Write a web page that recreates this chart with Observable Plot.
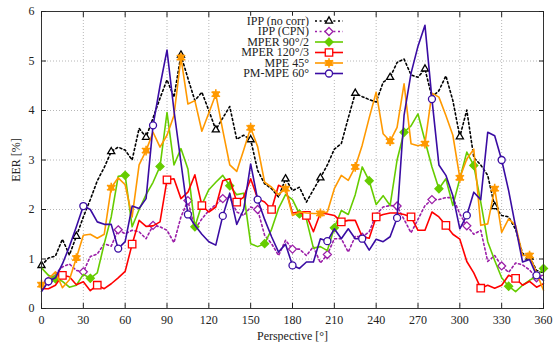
<!DOCTYPE html>
<html>
<head>
<meta charset="utf-8">
<script src="https://cdn.jsdelivr.net/npm/d3@7"></script>
<script src="https://cdn.jsdelivr.net/npm/@observablehq/plot@0.6"></script>
<style>
  html, body { margin: 0; padding: 0; background: white; }
</style>
</head>
<body>
<div id="chart"></div>
<script>
const angles = [0,5,10,15,20,25,30,35,40,45,50,55,60,65,70,75,80,85,90,95,100,105,110,115,120,125,130,135,140,145,150,155,160,165,170,175,180,185,190,195,200,205,210,215,220,225,230,235,240,245,250,255,260,265,270,275,280,285,290,295,300,305,310,315,320,325,330,335,340,345,350,355,360];

const seriesNames = ["IPP (no corr)", "IPP (CPN)", "MPER 90°/2", "MPER 120°/3", "MPE 45°", "PM-MPE 60°"];

const ippNoCorr = [0.87,1.02,1.06,1.4,1.08,1.46,1.85,2.2,2.58,2.85,
  3.17,3.26,3.2,3.0,3.64,3.46,3.85,4.25,4.62,4.27,
  5.12,4.65,4.2,4.37,4.0,3.61,3.85,4.08,3.42,3.5,
  3.41,2.79,2.52,2.42,2.25,2.62,2.38,2.45,2.15,2.4,
  2.64,2.9,3.22,3.33,3.85,4.35,4.28,4.22,4.17,4.57,
  4.67,4.97,5.04,4.72,4.67,4.84,4.27,4.4,4.7,4.2,
  3.47,4.01,3.05,2.9,2.69,2.06,1.88,1.85,1.6,1.11,
  1.04,0.77,0.72];

const ippCpn = [0.45,0.55,0.7,0.84,0.9,0.77,0.74,1.05,1.1,1.31,
  1.26,1.59,1.51,1.58,1.55,1.41,1.68,1.65,1.58,1.33,
  1.85,2.18,1.6,1.81,1.98,2.1,2.22,2.25,1.95,1.88,
  2.05,2.0,1.48,1.31,1.07,1.38,1.2,1.2,1.07,1.25,
  0.92,1.09,1.41,1.41,1.14,1.46,1.44,1.55,1.9,2.05,
  2.08,2.07,1.8,1.53,1.8,2.08,2.2,2.2,2.24,2.24,
  1.91,1.67,1.5,1.58,0.95,1.07,0.86,0.73,0.92,0.88,
  0.78,0.62,0.68];

const mper90 = [0.82,0.67,0.6,0.55,0.43,0.47,0.69,0.61,0.72,1.31,
  1.85,2.67,2.69,1.65,2.0,2.3,2.55,2.87,3.96,2.9,
  3.23,2.82,1.65,2.1,2.4,2.55,2.69,2.48,2.3,2.33,
  1.31,1.25,1.31,1.6,2.02,2.3,2.2,1.91,1.8,1.22,
  1.25,1.17,1.63,1.98,1.9,2.3,2.86,2.58,2.1,2.28,
  2.08,3.0,3.56,3.69,3.93,3.39,2.86,2.42,2.62,2.08,
  2.62,3.16,2.89,2.15,1.35,0.97,0.62,0.45,0.34,0.47,
  0.57,0.65,0.81];

const mper120 = [0.4,0.4,0.47,0.67,0.64,0.48,0.54,0.36,0.47,0.4,
  0.5,0.62,0.75,1.3,1.78,1.66,1.67,1.75,2.6,2.62,
  2.22,2.35,2.7,2.08,1.95,2.05,2.58,2.62,2.15,2.25,
  2.62,2.22,2.15,2.0,2.49,2.42,1.93,1.95,1.88,1.55,
  1.93,1.91,1.88,1.75,1.78,1.78,1.45,1.42,1.85,1.9,
  1.93,1.93,1.9,1.85,1.58,1.58,1.95,1.85,1.68,1.5,
  1.4,0.95,0.72,0.41,0.47,0.41,0.47,0.67,0.61,0.47,
  0.55,0.43,0.5];

const mpe45 = [0.48,0.6,0.74,0.42,0.58,1.02,1.48,1.5,1.42,1.5,
  2.44,2.64,2.5,1.85,2.9,3.19,3.56,3.26,3.5,3.9,
  5.07,4.13,4.2,3.58,3.95,4.33,3.6,2.9,2.77,3.2,
  3.65,3.27,2.55,2.45,2.3,2.42,1.88,1.95,1.93,1.92,
  1.92,1.95,2.42,2.69,2.59,2.86,3.3,3.85,4.37,3.53,
  3.38,3.66,4.54,3.33,3.29,3.33,4.35,4.27,3.9,3.5,
  2.64,3.02,3.22,1.68,1.71,2.42,1.54,1.81,1.68,1.07,
  1.07,0.72,0.37];

const pmMpe60 = [0.34,0.55,0.62,0.9,1.25,1.65,2.07,2.0,1.75,1.7,
  1.7,1.21,1.35,2.07,2.02,2.22,3.7,4.5,5.22,4.0,
  2.95,1.9,1.68,1.5,1.35,1.28,1.87,2.33,1.7,2.0,
  2.92,2.2,1.8,1.45,1.14,1.3,0.87,0.81,0.94,0.94,
  1.41,1.36,1.61,1.41,1.61,1.41,1.41,1.18,1.4,1.35,
  1.45,1.83,3.9,4.75,5.3,5.72,4.23,2.9,2.69,2.28,
  1.61,1.88,2.35,2.2,3.56,3.49,3.0,2.38,1.65,0.94,
  0.99,0.67,0.57];

const xTicks = [0,30,60,90,120,150,180,210,240,270,300,330,360];
const yTicks = [0,1,2,3,4,5,6];

const FONT = "Liberation Serif, Times New Roman, DejaVu Serif, serif";

const styles = [
  {values: ippNoCorr, color: "#000000", dash: "2,2.6", symbol: "triangle2", d3sym: d3.symbolTriangle2, fill: "white", r: 3.4, offset: 0},
  {values: ippCpn,    color: "#9b1fa8", dash: "2,2.6", symbol: "diamond2", d3sym: d3.symbolDiamond2, fill: "white", r: 3.6, offset: 1},
  {values: mper90,    color: "#66cc00", dash: null, symbol: "diamond2", d3sym: d3.symbolDiamond2, fill: "#66cc00", r: 3.6, offset: 2},
  {values: mper120,   color: "#ff0000", dash: null, symbol: "square", d3sym: d3.symbolSquare, fill: "white", r: 4.2, offset: 3},
  {values: mpe45,     color: "#ff9900", dash: null, symbol: "square", d3sym: d3.symbolSquare, fill: "#ff9900", r: 2.6, offset: 0, star: true},
  {values: pmMpe60,   color: "#3a0ca3", dash: null, symbol: "circle", d3sym: d3.symbolCircle, fill: "white", r: 3.5, offset: 1}
];

const marks = [
  Plot.gridX(xTicks, {stroke: "#999", strokeOpacity: 0.7, strokeDasharray: "1,2"}),
  Plot.gridY(yTicks, {stroke: "#999", strokeOpacity: 0.7, strokeDasharray: "1,2"})
];

styles.forEach((s) => {
  const rows = angles.map((a, i) => ({angle: a, eer: s.values[i], i}));
  marks.push(Plot.line(rows, {x: "angle", y: "eer", stroke: s.color, strokeWidth: 1.6, strokeDasharray: s.dash || undefined}));
  const pts = rows.filter(d => d.i % 5 === s.offset);
  marks.push(Plot.dot(pts, {x: "angle", y: "eer", symbol: s.symbol, r: s.r, stroke: s.color, fill: s.fill, strokeWidth: 1.3}));
  if (s.star) marks.push(Plot.dot(pts, {x: "angle", y: "eer", symbol: "asterisk", r: 4.6, stroke: s.color, strokeWidth: 1.6}));
});

marks.push(
  Plot.frame({stroke: "#333", strokeWidth: 1}),
  Plot.axisX(xTicks, {tickSize: 0, tickPadding: 7, tickFormat: d => String(d), label: "Perspective [°]", labelAnchor: "center", labelArrow: "none", labelOffset: 31}),
  Plot.axisX(xTicks, {tickSize: 5, dy: -5, tickFormat: () => "", label: null}),
  Plot.axisX(xTicks, {anchor: "top", tickSize: 5, dy: 5, tickFormat: () => "", label: null}),
  Plot.axisY(yTicks, {tickSize: 0, tickPadding: 7, tickFormat: d => String(d), label: "EER [%]", labelAnchor: "center", labelArrow: "none", labelOffset: 30}),
  Plot.axisY(yTicks, {tickSize: 5, dx: 5, tickFormat: () => "", label: null}),
  Plot.axisY(yTicks, {anchor: "right", tickSize: 5, dx: -5, tickFormat: () => "", label: null})
);

const chart = Plot.plot({
  width: 555,
  height: 342,
  marginLeft: 41,
  marginRight: 12,
  marginTop: 11,
  marginBottom: 34,
  style: {fontSize: "12px", background: "white", color: "#222", fontFamily: FONT},
  x: {domain: [0, 360]},
  y: {domain: [0, 6]},
  marks
});

// Legend inside the plot, like the gnuplot key
const svg = d3.select(chart);
svg.attr("font-family", FONT);
const lg = svg.append("g").attr("font-size", 12).attr("fill", "#222");
styles.forEach((s, i) => {
  const y = 21 + i * 10.5;
  lg.append("rect").attr("x", 240).attr("y", y - 5.25).attr("width", 106).attr("height", 10.5).attr("fill", "white");
  lg.append("text").attr("x", 309).attr("y", y).attr("dy", "0.33em").attr("text-anchor", "end").text(seriesNames[i]);
  lg.append("line").attr("x1", 315).attr("x2", 343).attr("y1", y).attr("y2", y)
    .attr("stroke", s.color).attr("stroke-width", 1.6).attr("stroke-dasharray", s.dash || null);
  const size = Math.PI * s.r * s.r;
  lg.append("path").attr("d", d3.symbol(s.d3sym, size)()).attr("transform", `translate(329,${y})`)
    .attr("fill", s.fill).attr("stroke", s.color).attr("stroke-width", 1.3);
  if (s.star) {
    lg.append("path").attr("d", d3.symbol(d3.symbolAsterisk, Math.PI * 4.6 * 4.6)()).attr("transform", `translate(329,${y})`)
      .attr("fill", "none").attr("stroke", s.color).attr("stroke-width", 1.6);
  }
});
// force the serif face on every text element
svg.selectAll("text").style("font-family", FONT).attr("font-family", FONT);

document.getElementById("chart").appendChild(chart);
</script>
</body>
</html>
